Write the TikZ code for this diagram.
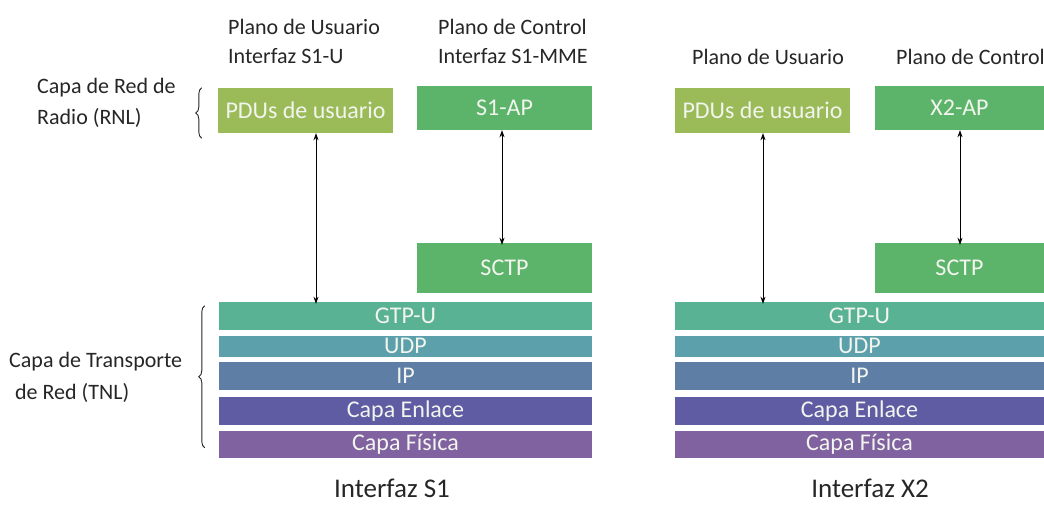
\documentclass[tikz,border=0pt]{standalone}
\usepackage{fontspec}
\setmainfont{Carlito}
\usetikzlibrary{arrows.meta,decorations.pathreplacing}
\definecolor{olive}{HTML}{9BBB59}
\definecolor{apgreen}{HTML}{5CB46A}
\definecolor{gtpcol}{HTML}{5AB294}
\definecolor{udpcol}{HTML}{5BA0AA}
\definecolor{ipcol}{HTML}{5E7EA6}
\definecolor{enlcol}{HTML}{605CA4}
\definecolor{fiscol}{HTML}{8062A0}
\definecolor{ink}{HTML}{262626}
\definecolor{boxtext}{HTML}{F2F4EE}
\tikzset{
  layer/.style={rectangle, inner sep=0pt, text=boxtext, font=\fontsize{24}{28}\selectfont},
  lbl/.style={anchor=west, inner sep=0pt, text=ink, font=\fontsize{22}{26}\selectfont},
  caption/.style={inner sep=0pt, text=ink, font=\fontsize{27}{31}\selectfont},
  arr/.style={{Stealth[length=7pt,width=5pt]}-{Stealth[length=7pt,width=5pt]}, line width=0.8pt, black},
  brc/.style={decorate, decoration={brace, amplitude=6pt}, line width=0.9pt, ink}
}
\begin{document}
\begin{tikzpicture}[x=1pt,y=-1pt]
\useasboundingbox (0,0) rectangle (1044,505);

% ---- Interfaz S1 ----
\node[lbl] (pu1) at (228,27) {Plano de Usuario};
\node[lbl] (iu1) at (228,56) {Interfaz S1-U};
\node[lbl] (pc1) at (438,27) {Plano de Control};
\node[lbl] (ic1) at (438,56) {Interfaz S1-MME};
\node[lbl] (rnl1) at (37,88) {Capa de Red de};
\node[lbl] (rnl2) at (37,118) {Radio (RNL)};
\node[lbl] (tnl1) at (9,362) {Capa de Transporte};
\node[lbl] (tnl2) at (15,393) {de Red (TNL)};

\node[layer, fill=olive, minimum width=175pt, minimum height=45pt] (pduL) at (305.5,110.5) {PDUs de usuario};
\node[layer, fill=apgreen, minimum width=175pt, minimum height=44pt] (s1ap) at (504.5,108) {S1-AP};
\node[layer, fill=apgreen, minimum width=175pt, minimum height=50pt] (sctpL) at (504.5,268) {SCTP};
\node[layer, fill=gtpcol, minimum width=373pt, minimum height=28pt] (gtpL) at (405.5,316) {GTP-U};
\node[layer, fill=udpcol, minimum width=373pt, minimum height=21pt] (udpL) at (405.5,346) {UDP};
\node[layer, fill=ipcol, minimum width=373pt, minimum height=28pt] (ipL) at (405.5,376) {IP};
\node[layer, fill=enlcol, minimum width=373pt, minimum height=28pt] (enlL) at (405.5,411) {Capa Enlace};
\node[layer, fill=fiscol, minimum width=373pt, minimum height=27pt] (fisL) at (405.5,444) {Capa Física};
\node[caption] (capS1) at (392,488) {Interfaz S1};

\coordinate (xaL) at (316,0);
\coordinate (xbL) at (502,0);
\draw[arr] (pduL.south -| xaL) -- ([yshift=-2pt]gtpL.north -| xaL);
\draw[arr] (s1ap.south -| xbL) -- ([yshift=-2pt]sctpL.north -| xbL);

\draw[brc] ([xshift=-16pt,yshift=-5pt]pduL.south west) -- ([xshift=-16pt,yshift=0pt]pduL.north west);
\draw[brc] ([xshift=-14pt,yshift=10pt]fisL.south west) -- ([xshift=-14pt,yshift=-4pt]gtpL.north west);

% ---- Interfaz X2 ----
\node[lbl] (pu2) at (692,57) {Plano de Usuario};
\node[lbl] (pc2) at (896,57) {Plano de Control};

\node[layer, fill=olive, minimum width=175pt, minimum height=45pt] (pduR) at (762.5,110.5) {PDUs de usuario};
\node[layer, fill=apgreen, minimum width=169pt, minimum height=44pt] (x2ap) at (959.5,108) {X2-AP};
\node[layer, fill=apgreen, minimum width=169pt, minimum height=50pt] (sctpR) at (959.5,268) {SCTP};
\node[layer, fill=gtpcol, minimum width=369pt, minimum height=28pt] (gtpR) at (859.5,316) {GTP-U};
\node[layer, fill=udpcol, minimum width=369pt, minimum height=21pt] (udpR) at (859.5,346) {UDP};
\node[layer, fill=ipcol, minimum width=369pt, minimum height=28pt] (ipR) at (859.5,376) {IP};
\node[layer, fill=enlcol, minimum width=369pt, minimum height=28pt] (enlR) at (859.5,411) {Capa Enlace};
\node[layer, fill=fiscol, minimum width=369pt, minimum height=27pt] (fisR) at (859.5,444) {Capa Física};
\node[caption] (capX2) at (870,488) {Interfaz X2};

\coordinate (xaR) at (763,0);
\coordinate (xbR) at (960,0);
\draw[arr] (pduR.south -| xaR) -- ([yshift=-2pt]gtpR.north -| xaR);
\draw[arr] (x2ap.south -| xbR) -- ([yshift=-2pt]sctpR.north -| xbR);
\end{tikzpicture}
\end{document}
